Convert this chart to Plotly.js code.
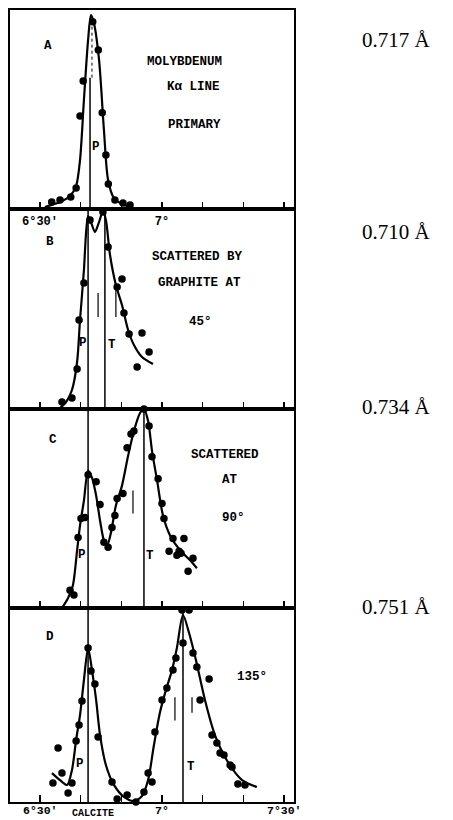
<!DOCTYPE html>
<html>
<head>
<meta charset="utf-8">
<script src="https://cdn.plot.ly/plotly-3.0.1.min.js"></script>
<style>html,body{margin:0;padding:0;background:#fff;}#chart{width:453px;height:820px;}</style>
</head>
<body>
<div id="chart"></div>
<script>
// ---- Data (angle in degrees, intensity in relative units 0-100 per panel) ----
const aDotAngle = [6.716, 6.739, 6.677, 6.664, 6.755, 6.770, 6.648, 6.780, 6.626, 6.548, 6.582, 6.807, 6.840, 6.869];
const aDotInt   = [94.1, 79.9, 64.3, 46.7, 48.4, 27.1, 10.6, 12.6, 6.0, 3.5, 4.5, 4.5, 3.0, 2.0];
const aCurveAngle = [6.520, 6.582, 6.623, 6.648, 6.664, 6.680, 6.697, 6.709, 6.721, 6.742, 6.762, 6.779, 6.803, 6.836, 6.869];
const aCurveInt   = [1.0, 3.5, 6.5, 11.6, 24.6, 54.8, 84.9, 97.5, 93.5, 74.9, 39.7, 14.6, 5.5, 2.5, 1.0];

const bDotAngle = [6.705, 6.758, 6.779, 6.836, 6.816, 6.680, 6.660, 6.844, 6.865, 6.918, 6.947, 6.898, 6.652, 6.631, 6.590];
const bDotInt   = [94.5, 98.5, 81.0, 65.0, 61.0, 63.0, 44.5, 48.0, 37.5, 38.0, 28.5, 21.0, 20.0, 5.5, 3.5];
const bCurveAngle = [6.582, 6.607, 6.631, 6.652, 6.664, 6.680, 6.689, 6.697, 6.709, 6.725, 6.742, 6.758, 6.770, 6.787, 6.811, 6.836, 6.861, 6.885, 6.918, 6.963];
const bCurveInt   = [0.5, 3.5, 9.5, 23.5, 44.5, 69.5, 88.5, 96.5, 93.5, 88.5, 93.5, 99.0, 94.5, 77.0, 62.0, 52.0, 39.5, 32.0, 26.0, 22.5];

const cDotAngle = [6.623, 6.639, 6.656, 6.668, 6.684, 6.697, 6.730, 6.746, 6.762, 6.779, 6.795, 6.807, 6.816, 6.840, 6.857, 6.873, 6.885, 6.926, 6.947, 6.959, 6.984, 7.000, 7.008, 7.045, 7.090, 7.029, 7.070, 7.061, 7.078, 7.127, 7.107];
const cDotInt   = [9.0, 6.5, 35.5, 45.0, 45.5, 67.0, 63.5, 52.0, 33.0, 30.5, 40.5, 46.5, 55.0, 57.5, 80.5, 87.5, 89.0, 100.0, 91.5, 76.0, 65.0, 52.5, 45.0, 35.0, 35.0, 28.5, 28.5, 26.5, 27.5, 25.0, 18.5];
const cCurveAngle = [6.590, 6.615, 6.635, 6.652, 6.664, 6.680, 6.697, 6.713, 6.730, 6.746, 6.762, 6.775, 6.791, 6.811, 6.836, 6.861, 6.885, 6.910, 6.926, 6.943, 6.959, 6.980, 7.004, 7.033, 7.074, 7.115, 7.143];
const cCurveInt   = [0, 5.0, 11.5, 29.0, 41.5, 54.0, 69.0, 65.5, 56.5, 44.0, 34.0, 31.5, 38.0, 51.5, 61.5, 76.5, 89.0, 98.0, 100, 94.0, 79.0, 64.0, 46.5, 36.5, 29.0, 24.0, 20.0];

const dDotAngle = [6.574, 6.590, 6.553, 6.615, 6.631, 6.648, 6.660, 6.672, 6.697, 6.709, 6.725, 6.738, 6.795, 6.816, 6.857, 6.893, 6.926, 6.943, 6.959, 6.971, 7.000, 7.020, 7.045, 7.057, 7.082, 7.111, 7.086, 7.127, 7.143, 7.193, 7.156, 7.205, 7.225, 7.238, 7.254, 7.279, 7.287, 7.311, 7.340];
const dDotInt   = [27.8, 14.9, 9.8, 4.6, 9.8, 31.4, 39.7, 52.1, 79.4, 67.5, 60.8, 33.5, 10.3, 1.5, 3.6, 0, 5.2, 14.9, 10.3, 36.1, 52.6, 58.8, 68.0, 74.2, 99.0, 99.0, 82.0, 76.8, 69.6, 63.4, 52.6, 34.5, 30.4, 25.3, 24.2, 19.1, 18.0, 9.3, 8.8];
const dCurveAngle = [6.549, 6.582, 6.611, 6.631, 6.648, 6.664, 6.680, 6.697, 6.713, 6.730, 6.746, 6.770, 6.803, 6.844, 6.885, 6.918, 6.943, 6.967, 6.992, 7.016, 7.041, 7.061, 7.086, 7.111, 7.139, 7.176, 7.217, 7.270, 7.328, 7.389];
const dCurveInt   = [14.9, 11.3, 8.8, 16.5, 32.0, 44.8, 62.9, 79.4, 68.0, 52.6, 34.5, 19.1, 8.8, 2.6, 0.5, 3.1, 11.3, 29.4, 46.4, 57.7, 68.0, 79.4, 96.4, 87.1, 73.2, 52.6, 34.5, 20.6, 11.3, 7.7];

// Positions of the primary (P) and modified (T) lines, per panel
const pLineAngle = [6.705, 6.697, 6.697, 6.697];
const tLineAngle = [null, 6.766, 6.926, 7.086];
// Short marker strokes (angle, low, high) per panel
const bMarkAngle = [6.738, 6.811], bMarkLow = [46, 46], bMarkHigh = [58, 61];
const cMarkAngle = [6.881], cMarkLow = [47.5], cMarkHigh = [59];
const dMarkAngle = [7.053, 7.123], dMarkLow = [42, 46], dMarkHigh = [54, 54];

const wavelengthLabels = ["0.717 Å", "0.710 Å", "0.734 Å", "0.751 Å"];
const tickVals = [6.5, 6.6667, 6.8333, 7.0, 7.1667, 7.3333, 7.5];
const tickTextTop = ["6°30'", "", "", "7°", "", "", ""];
const bottomTickVals = [6.5, 7.0, 7.5];
const bottomTickText = ["6°30'", "7°", "7°30'"];

// ---- Build ----
const mono = "Liberation Mono, DejaVu Sans Mono, monospace";
const ink = "#000";
const sets = [
  [aDotAngle, aDotInt, aCurveAngle, aCurveInt],
  [bDotAngle, bDotInt, bCurveAngle, bCurveInt],
  [cDotAngle, cDotInt, cCurveAngle, cCurveInt],
  [dDotAngle, dDotInt, dCurveAngle, dCurveInt]
];
const traces = [];
sets.forEach((s, i) => {
  const sfx = i === 0 ? '' : String(i + 1);
  traces.push({x: s[2], y: s[3], xaxis: 'x' + sfx, yaxis: 'y' + sfx, mode: 'lines',
    line: {color: ink, width: 2.2, shape: 'spline', smoothing: 0.8}, cliponaxis: false, hoverinfo: 'skip', showlegend: false});
  traces.push({x: s[0], y: s[1], xaxis: 'x' + sfx, yaxis: 'y' + sfx, mode: 'markers',
    marker: {color: ink, size: 7.5}, cliponaxis: false, showlegend: false});
});

const domains = [[0.7487, 1.0], [0.4962, 0.7487], [0.2449, 0.4962], [0, 0.2449]];
const layout = {
  width: 453, height: 820,
  margin: {l: 10, r: 159, t: 10, b: 18},
  paper_bgcolor: '#fff', plot_bgcolor: '#fff',
  showlegend: false,
  shapes: [], annotations: []
};
domains.forEach((d, i) => {
  const sfx = i === 0 ? '' : String(i + 1);
  layout['xaxis' + sfx] = {
    domain: [0, 1], anchor: 'y' + sfx, range: [6.377, 7.541],
    showline: true, mirror: true, linecolor: ink, linewidth: 2,
    showgrid: false, zeroline: false,
    ticks: 'inside', ticklen: 7, tickwidth: 1.5, tickcolor: ink,
    tickmode: 'array', tickvals: tickVals, ticktext: tickTextTop,
    showticklabels: i === 0,
    tickfont: {family: mono, size: 12, color: ink, weight: 'bold'}
  };
  layout['yaxis' + sfx] = {
    domain: d, anchor: 'x' + sfx, range: [0, 100],
    showline: true, mirror: true, linecolor: ink, linewidth: 2,
    showgrid: false, zeroline: false, showticklabels: false, ticks: ''
  };
  // P line
  layout.shapes.push({type: 'line', xref: 'x' + sfx, yref: 'y' + sfx,
    x0: pLineAngle[i], x1: pLineAngle[i], y0: 0, y1: i === 0 ? 66 : 100, line: {color: ink, width: 1.5}});
  if (tLineAngle[i] !== null) {
    layout.shapes.push({type: 'line', xref: 'x' + sfx, yref: 'y' + sfx,
      x0: tLineAngle[i], x1: tLineAngle[i], y0: 0, y1: 100, line: {color: ink, width: 1.5}});
  }
  // wavelength label on right
  const yPix = [40, 232, 407, 607][i];
  layout.annotations.push({xref: 'paper', yref: 'paper', x: (360 - 10) / 284, y: (802 - yPix) / 792,
    xanchor: 'left', yanchor: 'middle', showarrow: false, text: wavelengthLabels[i],
    font: {family: 'Liberation Serif, Times New Roman, serif', size: 21, color: ink}});
});
// bottom tick labels of panel D (as annotations on the x4 axis so they stay inside the picture)
bottomTickVals.forEach((v, k) => {
  layout.annotations.push({xref: 'x4', yref: 'paper', x: v, y: (802 - 810) / 792,
    xanchor: 'center', yanchor: 'middle', showarrow: false, text: bottomTickText[k],
    font: {family: mono, size: 11.5, color: ink, weight: 'bold'}});
});
// dashed upper part of P line in panel A
layout.shapes.push({type: 'line', xref: 'x', yref: 'y', x0: pLineAngle[0] + 0.008, x1: pLineAngle[0] + 0.008, y0: 66, y1: 97,
  line: {color: ink, width: 1, dash: 'dot'}});
[[bMarkAngle, bMarkLow, bMarkHigh, '2'], [cMarkAngle, cMarkLow, cMarkHigh, '3'], [dMarkAngle, dMarkLow, dMarkHigh, '4']].forEach(m => {
  m[0].forEach((a, k) => {
    layout.shapes.push({type: 'line', xref: 'x' + m[3], yref: 'y' + m[3], x0: a, x1: a, y0: m[1][k], y1: m[2][k],
      line: {color: ink, width: 1.2}});
  });
});

// typed text labels (pixel positions -> paper)
const txt = [
  ["A", 48, 46], ["B", 50, 242], ["C", 53, 440], ["D", 50, 637],
  ["MOLYBDENUM", 184, 62], ["Kα LINE", 193, 87], ["PRIMARY", 194, 125],
  ["SCATTERED BY", 197, 257], ["GRAPHITE AT", 199, 283], ["45°", 200, 322],
  ["SCATTERED", 225, 455], ["AT", 230, 480], ["90°", 233, 518],
  ["135°", 252, 677],
  ["P", 96, 147], ["P", 83, 343], ["T", 112, 345], ["P", 82, 555], ["T", 150, 556],
  ["P", 80, 764], ["T", 191, 767], ["CALCITE", 93, 813]
];
txt.forEach(t => {
  layout.annotations.push({xref: 'paper', yref: 'paper', x: (t[1] - 10) / 284, y: (802 - t[2]) / 792,
    xanchor: 'center', yanchor: 'middle', showarrow: false, text: t[0],
    font: {family: mono, size: t[0] === 'CALCITE' ? 10 : 12.5, color: ink, weight: 'bold'}});
});

Plotly.newPlot('chart', traces, layout, {staticPlot: true, displayModeBar: false});
</script>
</body>
</html>
